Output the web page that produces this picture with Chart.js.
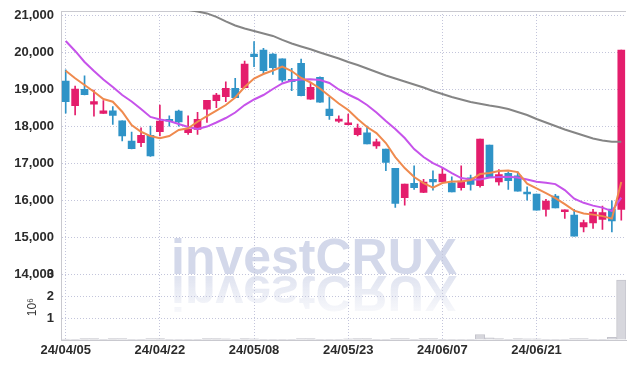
<!DOCTYPE html>
<html>
<head>
<meta charset="utf-8">
<script src="https://cdn.jsdelivr.net/npm/chart.js@4.4.1/dist/chart.umd.min.js"></script>
<style>
html,body{margin:0;padding:0;background:#fff;}
#wrap{width:634px;height:368px;position:relative;}
</style>
</head>
<body>
<div id="wrap"><canvas id="c" width="634" height="368"></canvas></div>
<script>
// ---- data ----
const dates = [
 '24/04/05','24/04/08','24/04/09','24/04/11','24/04/12','24/04/15','24/04/16','24/04/17','24/04/18','24/04/19',
 '24/04/22','24/04/23','24/04/24','24/04/25','24/04/26','24/04/29','24/04/30','24/05/02','24/05/03','24/05/07',
 '24/05/08','24/05/09','24/05/10','24/05/13','24/05/14','24/05/16','24/05/17','24/05/20','24/05/21','24/05/22',
 '24/05/23','24/05/24','24/05/27','24/05/28','24/05/29','24/05/30','24/05/31','24/06/03','24/06/04','24/06/05',
 '24/06/07','24/06/10','24/06/11','24/06/12','24/06/13','24/06/14','24/06/17','24/06/18','24/06/19','24/06/20',
 '24/06/21','24/06/24','24/06/25','24/06/26','24/06/27','24/06/28','24/07/01','24/07/02','24/07/03','24/07/04'
];
const openPrices = [
 19230,18560,19005,18600,18355,18420,18150,17605,17560,17760,
 17855,18175,18415,17830,17920,18470,18695,18805,19035,19050,
 19960,20070,19960,19830,19275,19710,18735,19330,18470,18145,
 18045,17775,17830,17475,17390,16865,16070,16460,16215,16565,
 16500,16475,16340,16610,16395,17495,16500,16730,16665,16205,
 16170,15755,16115,15690,15600,15280,15390,15480,15760,15755
];
const highPrices = [
 19530,19095,19370,18985,18700,18535,18150,17850,17965,18010,
 18580,18290,18445,18290,18380,18710,18895,19210,19305,19770,
 20295,20115,19970,19830,19575,19825,19185,19340,18790,18290,
 18335,18065,18010,17660,17390,16865,16440,16935,16565,16800,
 16880,16635,16935,16685,17660,17495,16835,16770,16770,16365,
 16170,16025,16160,15740,15755,15465,15755,15845,15985,20070
];
const lowPrices = [
 18360,18310,18850,18280,18350,18055,17605,17390,17450,17190,
 17740,18005,18005,17785,17785,18110,18505,18670,18780,19045,
 19620,19420,19410,19195,18965,18825,18730,18650,18190,18110,
 18040,17740,17530,17405,16800,15810,15870,16295,16210,16275,
 16500,16230,16275,16275,16355,16640,16410,16295,16245,16005,
 15730,15570,15795,15510,15030,15145,15240,15210,15145,15465
];
const closePrices = [
 18670,19010,18860,18670,18420,18300,17740,17395,17760,17200,
 18145,18140,18120,17930,18190,18705,18850,19035,18780,19690,
 19890,19510,19590,19255,19210,18830,19060,18655,18290,18180,
 18100,17955,17530,17585,17025,15915,16440,16340,16495,16500,
 16710,16230,16520,16430,17660,16640,16700,16530,16250,16170,
 15735,15980,15795,15735,15030,15400,15680,15670,15445,20070
];
const volumes = [
 40000,30000,60000,60000,30000,60000,70000,30000,30000,70000,
 60000,30000,30000,30000,30000,60000,60000,50000,30000,60000,
 50000,30000,30000,30000,30000,70000,60000,30000,30000,30000,
 50000,60000,60000,30000,30000,70000,70000,30000,60000,60000,
 30000,30000,30000,30000,250000,100000,60000,30000,60000,50000,
 50000,30000,30000,30000,70000,70000,30000,30000,120000,2730000
];
const ma5 = [
 19510,19304,19122,18940,18743,18669,18398,18038,17856,17740,
 17678,17740,17903,17949,18127,18282,18431,18580,18783,19068,
 19298,19420,19515,19623,19501,19312,19190,19027,18824,18621,
 18444,18201,17984,17821,17550,17171,16873,16629,16467,16344,
 16467,16507,16507,16547,16710,16737,16791,16805,16764,16453,
 16323,16195,16060,15897,15721,15645,15613,15572,15504,16493
];
const ma20 = [
 20314,20043,19744,19501,19271,19068,18851,18675,18472,18257,
 18187,18146,18065,17984,17930,17997,18106,18228,18377,18580,
 18729,18851,19014,19163,19244,19271,19279,19258,19176,19000,
 18865,18743,18580,18377,18146,17930,17686,17388,17171,17008,
 16886,16737,16602,16561,16561,16615,16629,16637,16615,16561,
 16501,16474,16439,16277,16046,15932,15856,15802,15707,16073
];
const ma60 = [
 null,null,null,null,null,null,null,null,null,null,
 null,21230,21180,21154,21114,21060,20965,20843,20734,20653,
 20585,20518,20450,20342,20247,20165,20089,20003,19921,19840,
 19745,19664,19569,19474,19379,19298,19217,19136,19054,18959,
 18878,18797,18729,18661,18612,18566,18526,18472,18390,18309,
 18201,18106,18011,17916,17835,17753,17672,17618,17585,17585
];
const priceTicks = [14000,15000,16000,17000,18000,19000,20000,21000];
const priceMax = 21125;
const volumeTicks = [1000000,2000000,3000000];
const volumeTitle = '10\u2076';
const watermarkText = 'investCRUX';

// ---- styling ----
const UP = '#e41d6c', DOWN = '#2f93c7';
const GRID = '#c3c5db', FRAME = '#c9c9cf';
const tickFont = {family:"'Liberation Sans',Arial,sans-serif", size:13, weight:'bold'};
const isUp = i => closePrices[i] >= openPrices[i];

const bodies = openPrices.map((o,i)=>[o, closePrices[i]]);
const wicks = lowPrices.map((l,i)=>[l, highPrices[i]]);

const watermark = {
  id:'watermark',
  beforeDraw(chart){
    const ctx = chart.ctx;
    const base = chart.scales.y.bottom;
    const x = chart.chartArea.left + 110;
    ctx.save();
    ctx.font = "bold 50px 'Liberation Sans', Arial, sans-serif";
    ctx.textBaseline = 'alphabetic';
    ctx.textAlign = 'left';
    ctx.fillStyle = '#d3d8ea';
    ctx.fillText(watermarkText, x, base);
    ctx.translate(0, base*2 + 2);
    ctx.scale(1,-1);
    const g = ctx.createLinearGradient(0, base, 0, base - 40);
    g.addColorStop(0, 'rgba(211,216,234,0.7)');
    g.addColorStop(1, 'rgba(211,216,234,0.12)');
    ctx.fillStyle = g;
    ctx.fillText(watermarkText, x, base);
    ctx.restore();
  }
};

new Chart(document.getElementById('c'), {
  data: {
    labels: dates,
    datasets: [
      {type:'line', label:'MA5', data:ma5, yAxisID:'y', borderColor:'#ef8a4e', borderWidth:2, pointRadius:0, tension:0, order:0},
      {type:'line', label:'MA20', data:ma20, yAxisID:'y', borderColor:'#c653ea', borderWidth:2, pointRadius:0, tension:0, order:0},
      {type:'line', label:'MA60', data:ma60, yAxisID:'y', borderColor:'#858585', borderWidth:2, pointRadius:0, tension:0, order:0},
      {type:'bar', label:'body', data:bodies, yAxisID:'y', grouped:false, barThickness:7, minBarLength:2,
        backgroundColor:c=>isUp(c.dataIndex)?UP:DOWN, borderWidth:0, order:1},
      {type:'bar', label:'wick', data:wicks, yAxisID:'y', grouped:false, barThickness:1,
        backgroundColor:c=>isUp(c.dataIndex)?UP:DOWN, borderWidth:0, order:2},
      {type:'bar', label:'volume', data:volumes, yAxisID:'yv', grouped:false, barPercentage:1, categoryPercentage:1,
        backgroundColor:'#d7d7dd', borderColor:'#c4c4cc', borderWidth:{left:1,right:1,top:1,bottom:0}, order:3}
    ]
  },
  options: {
    responsive:false, animation:false, devicePixelRatio:1,
    layout:{padding:{left:8, top:11, right:8, bottom:0}},
    plugins:{legend:{display:false}, tooltip:{enabled:false}},
    scales:{
      x:{
        type:'category', offset:true,
        grid:{offset:false, drawTicks:false, color:c=>(c.index%10===0)?GRID:'rgba(0,0,0,0)'},
        border:{color:FRAME, dash:[1,2]},
        ticks:{autoSkip:false, maxRotation:0, minRotation:0, padding:3, color:'#2b2b2b', font:tickFont,
          callback:(v,i)=> (i%10===0) ? dates[i] : ''},
        afterFit:s=>{s.height = 28; s.paddingLeft = 0; s.paddingRight = 0;}
      },
      y:{
        type:'linear', position:'left', stack:'main', stackWeight:4, weight:2,
        min:14000, max:priceMax,
        afterBuildTicks:s=>{ s.ticks = priceTicks.map(v=>({value:v})).concat([{value:priceMax}]); },
        grid:{drawTicks:false, color:c=>(c.tick && c.tick.value===priceMax)?FRAME:GRID},
        border:{color:FRAME, dash:c=>(c.tick && c.tick.value===priceMax)?[]:[1,2]},
        ticks:{autoSkip:false, padding:7, color:'#2b2b2b', font:tickFont,
          callback:v=> priceTicks.includes(v) ? v.toLocaleString('en-US') : ''},
        afterFit:s=>{s.width = 53; s.paddingTop = 0; s.paddingBottom = 0;}
      },
      yv:{
        type:'linear', position:'left', stack:'main', stackWeight:1, weight:1,
        min:0, max:3000000,
        afterBuildTicks:s=>{ s.ticks = [{value:0}].concat(volumeTicks.map(v=>({value:v}))); },
        grid:{drawTicks:false, color:c=>(c.tick && c.tick.value===0)?'rgba(0,0,0,0)':GRID},
        border:{color:FRAME, dash:[1,2]},
        title:{display:true, text:volumeTitle, color:'#333', font:{family:"'Liberation Sans',sans-serif", size:12}, padding:{top:17,bottom:0}},
        ticks:{autoSkip:false, padding:7, color:'#2b2b2b', font:tickFont,
          callback:v=> v===0 ? '' : String(v/1000000)},
        afterFit:s=>{s.width = 53; s.paddingTop = 0; s.paddingBottom = 0;}
      }
    }
  },
  plugins:[watermark]
});
</script>
</body>
</html>
